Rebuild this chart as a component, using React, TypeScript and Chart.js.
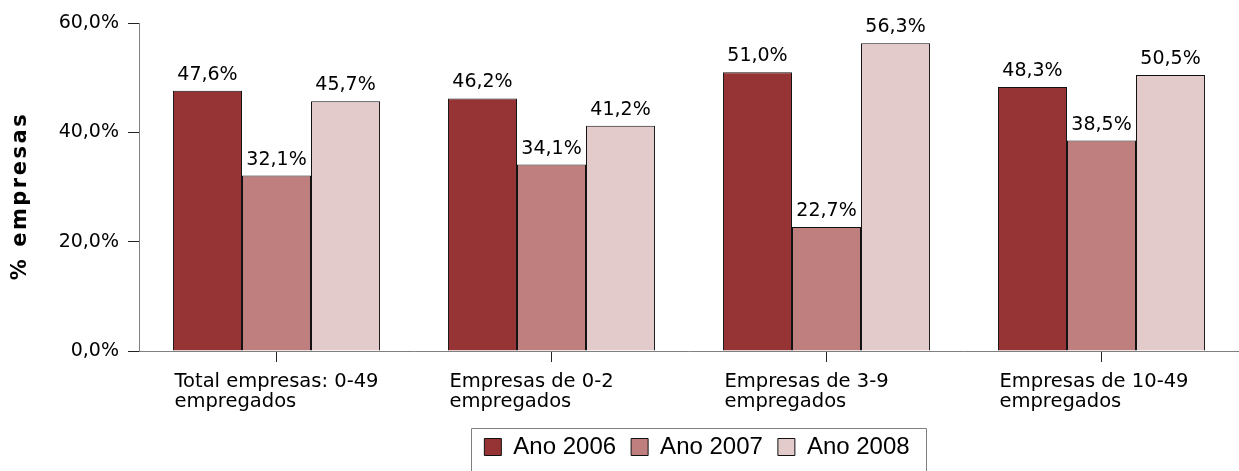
import React, { useEffect, useRef } from 'react';
import { Chart, registerables } from 'chart.js';

Chart.register(...registerables);

const categories: string[][] = [
  ['Total empresas: 0-49', 'empregados'],
  ['Empresas de 0-2', 'empregados'],
  ['Empresas de 3-9', 'empregados'],
  ['Empresas de 10-49', 'empregados'],
];
const seriesNames = ['Ano 2006', 'Ano 2007', 'Ano 2008'];
const ano2006 = [47.6, 46.2, 51.0, 48.3];
const ano2007 = [32.1, 34.1, 22.7, 38.5];
const ano2008 = [45.7, 41.2, 56.3, 50.5];
const seriesColors = ['#963335', '#bf7f7e', '#e3cbcb'];
const yMin = 0;
const yMax = 60;
const yStep = 20;
const yTitle = '% empresas';

const fmt = (v: number) => v.toFixed(1).replace('.', ',') + '%';

const FONT = '"DejaVu Sans", sans-serif';

const dataLabelPlugin = {
  id: 'dataLabels',
  afterDatasetsDraw(chart: any) {
    const ctx = chart.ctx;
    ctx.save();
    ctx.font = `19px ${FONT}`;
    ctx.fillStyle = '#000';
    ctx.textAlign = 'center';
    ctx.textBaseline = 'alphabetic';
    chart.data.datasets.forEach((ds: any, i: number) => {
      const meta = chart.getDatasetMeta(i);
      meta.data.forEach((el: any, j: number) => {
        ctx.fillText(fmt(ds.data[j]), el.x, el.y - 11);
      });
    });
    ctx.restore();
  },
};

const yTitlePlugin = {
  id: 'yTitle',
  afterDraw(chart: any) {
    const ctx = chart.ctx;
    const { top, bottom } = chart.chartArea;
    ctx.save();
    ctx.translate(21, (top + bottom) / 2 + 9);
    ctx.rotate(-Math.PI / 2);
    ctx.font = `bold 21px ${FONT}`;
    (ctx as any).letterSpacing = '2.5px';
    ctx.fillStyle = '#000';
    ctx.textAlign = 'center';
    ctx.textBaseline = 'middle';
    ctx.fillText(yTitle, 0, 0);
    ctx.restore();
  },
};

const legendFramePlugin = {
  id: 'legendFrame',
  afterLayout(chart: any) {
    const lg = chart.legend;
    if (lg) {
      lg.left += 8;
      lg.right += 8;
    }
  },
  afterDraw(chart: any) {
    const lg = chart.legend;
    if (!lg || !lg.legendHitBoxes || !lg.legendHitBoxes.length) return;
    const hb = lg.legendHitBoxes;
    const first = hb[0];
    const last = hb[hb.length - 1];
    const ctx = chart.ctx;
    const left = Math.round(first.left - 13) + 0.5;
    const right = Math.round(last.left + last.width + 16) + 0.5;
    const top = Math.round(first.top + (first.height - 17) / 2 - 11) + 0.5;
    ctx.save();
    ctx.strokeStyle = '#7f7f7f';
    ctx.lineWidth = 1;
    ctx.beginPath();
    ctx.moveTo(left, chart.height + 5);
    ctx.lineTo(left, top);
    ctx.lineTo(right, top);
    ctx.lineTo(right, chart.height + 5);
    ctx.stroke();
    ctx.restore();
  },
};

export default function App() {
  const ref = useRef<HTMLCanvasElement>(null);

  useEffect(() => {
    document.body.style.margin = '0';
    const canvas = ref.current;
    if (!canvas) return;
    const values = [ano2006, ano2007, ano2008];
    const chart = new Chart(canvas, {
      type: 'bar',
      data: {
        labels: categories,
        datasets: seriesNames.map((name, i) => ({
          label: name,
          data: values[i],
          backgroundColor: seriesColors[i],
          borderColor: '#111',
          borderWidth: 1,
          categoryPercentage: 0.753,
          barPercentage: 1,
        })),
      },
      options: {
        responsive: false,
        animation: false,
        devicePixelRatio: 1,
        layout: { padding: { top: 23, bottom: 2, left: 0, right: 0 } },
        plugins: {
          tooltip: { enabled: false },
          legend: {
            position: 'bottom',
            fullSize: false,
            align: 'center',
            labels: {
              boxWidth: 17,
              boxHeight: 17,
              padding: 15,
              color: '#000',
              font: { family: '"Liberation Sans", Arial, sans-serif', size: 24 },
            },
          },
        },
        scales: {
          x: {
            grid: {
              display: true,
              drawOnChartArea: false,
              drawTicks: true,
              tickLength: 11,
              offset: false,
              tickColor: '#222',
            },
            border: { display: true, color: '#808080', width: 1 },
            ticks: {
              color: '#000',
              font: { family: FONT, size: 19.5, lineHeight: 1.02 },
              align: 'start',
              labelOffset: -102,
              maxRotation: 0,
              minRotation: 0,
              autoSkip: false,
              padding: 10,
            },
            afterFit(scale: any) {
              scale.paddingLeft = 0;
              scale.paddingRight = 0;
              scale.height = 69;
            },
          },
          y: {
            min: yMin,
            max: yMax,
            grid: {
              display: true,
              drawOnChartArea: false,
              drawTicks: true,
              tickLength: 11,
              tickColor: '#222',
            },
            border: { display: true, color: '#808080', width: 1 },
            ticks: {
              stepSize: yStep,
              color: '#000',
              font: { family: FONT, size: 19 },
              padding: 9,
              callback: (v: any) => fmt(Number(v)),
            },
            afterFit(scale: any) {
              scale.width = 139;
            },
          },
        },
      },
      plugins: [dataLabelPlugin, yTitlePlugin, legendFramePlugin],
    } as any);
    return () => chart.destroy();
  }, []);

  return (
    <div style={{ width: 1239, height: 471 }}>
      <canvas ref={ref} width={1239} height={471} style={{ display: 'block' }} />
    </div>
  );
}
